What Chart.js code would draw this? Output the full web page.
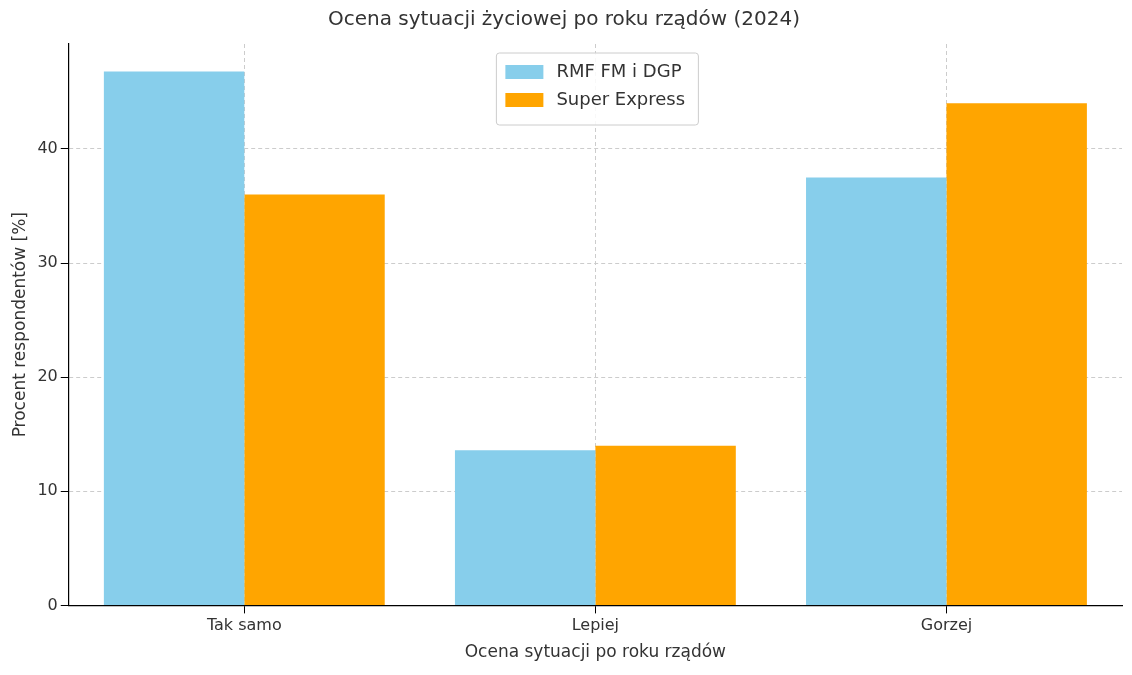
<!DOCTYPE html>
<html>
<head>
<meta charset="utf-8">
<script src="https://cdn.jsdelivr.net/npm/chart.js@4"></script>
<style>
  body { margin: 0; background: #fff; }
  #wrap { width: 1132px; height: 675px; }
</style>
</head>
<body>
<div id="wrap"><canvas id="myChart"></canvas></div>
<script>
const categories = ['Tak samo', 'Lepiej', 'Gorzej'];
const rmfValues = [46.8, 13.6, 37.5];
const seValues = [36.0, 14.0, 44.0];
const yTicks = [0, 10, 20, 30, 40];

// legend drawn inside the plot, top centre, like the original
const innerLegend = {
    id: 'innerLegend',
    afterDraw(chart) {
        const c = chart.ctx;
        const area = chart.chartArea;
        const w = 202, h = 72;
        const x = (area.left + area.right) / 2 - w / 2 + 2;
        const y = area.top + 9;
        c.save();
        c.fillStyle = 'rgba(255,255,255,0.85)';
        c.strokeStyle = '#cccccc';
        c.lineWidth = 1;
        c.beginPath();
        c.roundRect(x, y, w, h, 3);
        c.fill();
        c.stroke();
        c.font = '18px "DejaVu Sans"';
        c.textBaseline = 'middle';
        chart.data.datasets.forEach((ds, i) => {
            const ry = y + 19 + i * 28;
            c.fillStyle = ds.backgroundColor;
            c.fillRect(x + 9, ry - 7, 38, 14);
            c.fillStyle = '#333333';
            c.fillText(ds.label, x + 60, ry);
        });
        c.restore();
    }
};

new Chart(document.getElementById('myChart').getContext('2d'), {
    type: 'bar',
    data: {
        labels: categories,
        datasets: [{
            label: 'RMF FM i DGP',
            data: rmfValues,
            backgroundColor: '#87ceeb'
        }, {
            label: 'Super Express',
            data: seValues,
            backgroundColor: '#ffa500'
        }]
    },
    options: {
        responsive: true,
        maintainAspectRatio: false,
        animation: false,
        layout: { padding: { left: 6, right: 10, top: 0, bottom: 8 } },
        datasets: { bar: { barPercentage: 1, categoryPercentage: 0.8 } },
        plugins: {
            legend: { display: false },
            tooltip: { enabled: false },
            title: {
                display: true,
                text: 'Ocena sytuacji życiowej po roku rządów (2024)',
                color: '#333333',
                font: { family: 'DejaVu Sans', size: 20, weight: 'normal' },
                padding: { top: 8, bottom: 12 }
            }
        },
        scales: {
            x: {
                grid: { offset: false, color: '#cccccc', borderDash: [4, 3], drawTicks: true, tickColor: '#000' },
                border: { display: true, color: '#000', width: 1.2, dash: [4, 3] },
                ticks: { color: '#333333', font: { family: 'DejaVu Sans', size: 16 } },
                title: {
                    display: true,
                    text: 'Ocena sytuacji po roku rządów',
                    color: '#333333',
                    font: { family: 'DejaVu Sans', size: 17 }
                }
            },
            y: {
                min: 0,
                max: 49.2,
                afterBuildTicks: (axis) => { axis.ticks = yTicks.map(v => ({ value: v })); },
                grid: { color: '#cccccc', tickColor: '#000' },
                border: { display: true, color: '#000', width: 1.2, dash: [4, 3] },
                ticks: { color: '#333333', font: { family: 'DejaVu Sans', size: 16 } },
                title: {
                    display: true,
                    text: 'Procent respondentów [%]',
                    color: '#333333',
                    font: { family: 'DejaVu Sans', size: 17 }
                }
            }
        }
    },
    plugins: [innerLegend]
});
</script>
</body>
</html>
